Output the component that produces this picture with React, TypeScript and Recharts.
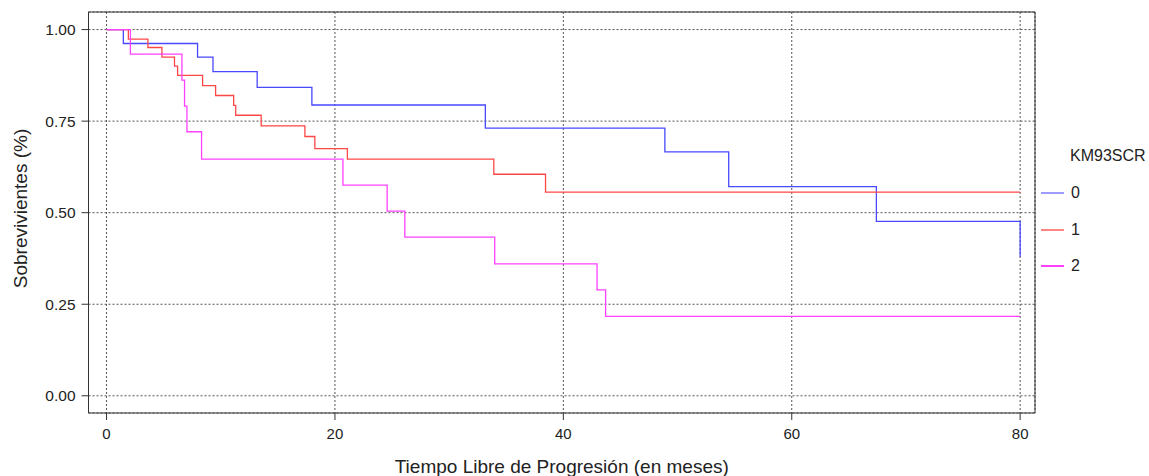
import React from 'react';
import {
  LineChart,
  Line,
  XAxis,
  YAxis,
  CartesianGrid,
  Legend,
  ReferenceArea,
} from 'recharts';

// Kaplan-Meier steps: time (months) and survival fraction
const times0 = [0, 1.47, 7.97, 9.32, 13.19, 17.98, 33.17, 48.89, 54.48, 67.41, 80];
const surv0 = [1, 0.962, 0.925, 0.885, 0.842, 0.794, 0.731, 0.666, 0.571, 0.476, 0.38];

const times1 = [0, 1.91, 3.62, 4.85, 5.95, 6.22, 8.41, 9.55, 11.13, 11.31, 13.54, 17.37, 18.24, 21.09, 33.91, 38.44, 80];
const surv1 = [1, 0.974, 0.951, 0.925, 0.9, 0.875, 0.847, 0.82, 0.793, 0.766, 0.737, 0.708, 0.675, 0.646, 0.605, 0.556, 0.556];

const times2 = [0, 2.09, 6.6, 6.83, 7.04, 8.32, 20.7, 24.57, 26.12, 33.99, 42.95, 43.7, 80];
const surv2 = [1, 0.933, 0.862, 0.791, 0.721, 0.646, 0.575, 0.504, 0.433, 0.36, 0.289, 0.217, 0.217];

const groups = ['0', '1', '2'];
const lineColors = ['#4848ff', '#ff4646', '#ff40ff'];
const legendColors = ['#9d9dff', '#ff8585', '#ff40ff'];

const xTicks = [0, 20, 40, 60, 80];
const yTicks = [0, 0.25, 0.5, 0.75, 1];
const xDomain: [number, number] = [-1.58, 81.3];
const yDomain: [number, number] = [-0.047, 1.048];

const toPoints = (t: number[], s: number[]) => t.map((v, i) => ({ t: v, s: s[i] }));
const series = [toPoints(times0, surv0), toPoints(times1, surv1), toPoints(times2, surv2)];

const font = 'Arial, "Liberation Sans", sans-serif';

function KMLegend() {
  return (
    <div style={{ fontFamily: font, color: '#222' }}>
      <div style={{ fontSize: 16, height: 22, lineHeight: '22px', marginLeft: 30 }}>KM93SCR</div>
      {groups.map((g, i) => (
        <div key={g} style={{ display: 'flex', alignItems: 'center', height: 36.5, marginTop: i === 0 ? 8 : 0 }}>
          <div style={{ width: 23, height: 2, background: legendColors[i], marginLeft: 1 }} />
          <span style={{ fontSize: 16, marginLeft: 7 }}>{g}</span>
        </div>
      ))}
    </div>
  );
}

function YLabel(props: any) {
  const vb = props.viewBox || { x: 0, y: 12, height: 401 };
  const cx = 20;
  const cy = vb.y + vb.height / 2 - 4;
  return (
    <text
      x={cx}
      y={cy}
      transform={`rotate(-90 ${cx} ${cy})`}
      textAnchor="middle"
      dominantBaseline="central"
      fontSize={19}
      fill="#222"
      fontFamily={font}
    >
      Sobrevivientes (%)
    </text>
  );
}

export default function App() {
  return (
    <div style={{ position: 'absolute', left: 0, top: 0, width: 1149, height: 476, background: '#fff' }}>
      <LineChart width={1149} height={476} margin={{ top: 12, right: 114, bottom: 0, left: 0 }}>
        <CartesianGrid stroke="#555" strokeDasharray="2 2" horizontal vertical />
        <XAxis
          type="number"
          dataKey="t"
          domain={xDomain}
          ticks={xTicks}
          allowDataOverflow
          height={63}
          axisLine={false}
          tickLine={{ stroke: '#333' }}
          tickSize={7}
          tickMargin={8}
          tick={{ fill: '#222', fontSize: 15, fontFamily: font }}
          label={{
            value: 'Tiempo Libre de Progresión (en meses)',
            position: 'insideBottom',
            offset: 3,
            fontSize: 19,
            fill: '#222',
            fontFamily: font,
          }}
        />
        <YAxis
          type="number"
          domain={yDomain}
          ticks={yTicks}
          allowDataOverflow
          width={88.5}
          axisLine={false}
          tickLine={{ stroke: '#333' }}
          tickSize={7}
          tickMargin={6}
          tickFormatter={(v: number) => v.toFixed(2)}
          tick={{ fill: '#222', fontSize: 15.5, fontFamily: font }}
          label={<YLabel />}
        />
        <ReferenceArea
          x1={xDomain[0]}
          x2={xDomain[1]}
          y1={yDomain[0]}
          y2={yDomain[1]}
          fill="none"
          stroke="#333"
          strokeWidth={1}
          ifOverflow="visible"
        />
        {series.map((pts, i) => (
          <Line
            key={groups[i]}
            data={pts}
            dataKey="s"
            name={groups[i]}
            type="stepAfter"
            stroke={lineColors[i]}
            strokeWidth={1.3}
            dot={false}
            activeDot={false}
            isAnimationActive={false}
          />
        ))}
        <Legend
          layout="vertical"
          align="center"
          verticalAlign="middle"
          content={<KMLegend />}
          wrapperStyle={{ left: 1040, top: 145, width: 108, height: 150 }}
        />
      </LineChart>
    </div>
  );
}
